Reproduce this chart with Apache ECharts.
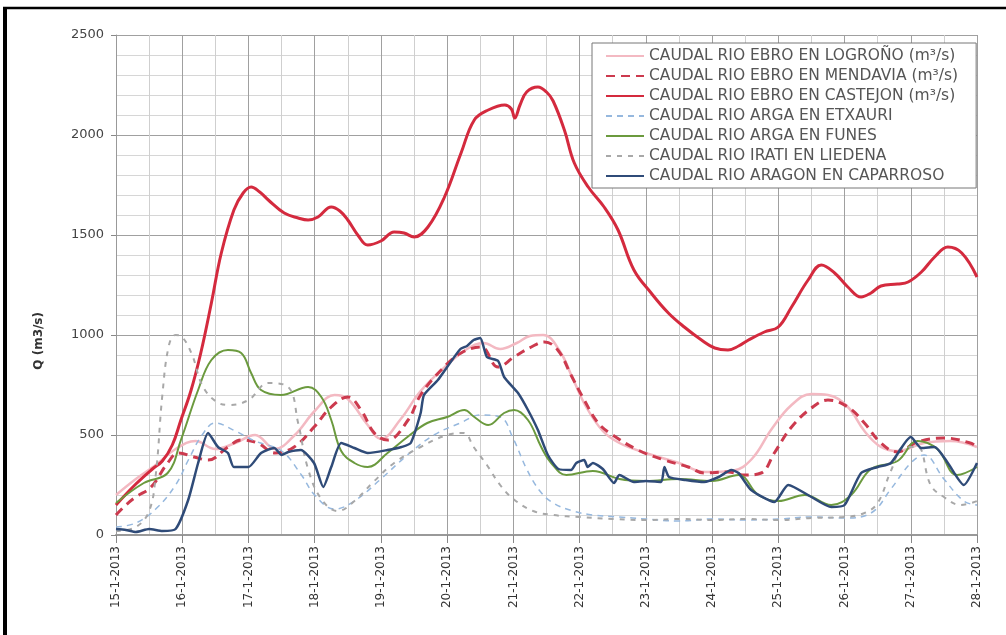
<!DOCTYPE html>
<html>
<head>
<meta charset="utf-8">
<script src="https://cdn.jsdelivr.net/npm/echarts@6/dist/echarts.min.js"></script>
<style>
html,body{margin:0;padding:0;background:#fff;}
#chart{width:1006px;height:635px;}
</style>
</head>
<body>
<div id="chart"></div>
<script>
// ---- data (x = days since 15-1-2013 00:00, y = Q m3/s) ----
const tickLabels = ['15-1-2013','16-1-2013','17-1-2013','18-1-2013','19-1-2013','20-1-2013','21-1-2013',
  '22-1-2013','23-1-2013','24-1-2013','25-1-2013','26-1-2013','27-1-2013','28-1-2013'];
const yTicks = [0, 500, 1000, 1500, 2000, 2500];

const seriesNames = [
  'CAUDAL RIO EBRO EN LOGROÑO (m³/s)',
  'CAUDAL RIO EBRO EN MENDAVIA (m³/s)',
  'CAUDAL RIO EBRO EN CASTEJON (m³/s)',
  'CAUDAL RIO ARGA EN ETXAURI',
  'CAUDAL RIO ARGA EN FUNES',
  'CAUDAL RIO IRATI EN LIEDENA',
  'CAUDAL RIO ARAGON EN CAPARROSO'
];

const LOGRONO = [[0,200],[0.3,280],[0.6,350],[0.9,430],[1.2,470],[1.5,430],[1.8,460],[2.1,500],[2.4,430],[2.7,500],[3.0,620],[3.3,700],[3.5,680],[3.8,550],[4.0,480],[4.3,580],[4.6,720],[5.0,850],[5.3,930],[5.55,960],[5.8,930],[6.05,960],[6.25,995],[6.45,1000],[6.7,920],[6.9,780],[7.1,640],[7.35,520],[7.6,460],[8.0,410],[8.5,360],[8.9,315],[9.3,320],[9.6,380],[9.9,530],[10.2,650],[10.5,705],[10.75,700],[11.05,640],[11.3,520],[11.55,440],[11.8,420],[12.2,460],[12.6,470],[13,440]];

const MENDAVIA = [[0,100],[0.15,150],[0.3,190],[0.53,240],[0.78,360],[0.94,410],[1.18,390],[1.39,375],[1.69,440],[1.89,475],[2.14,460],[2.4,410],[2.69,440],[2.99,540],[3.25,640],[3.5,690],[3.7,625],[3.9,510],[4.1,475],[4.41,575],[4.6,700],[4.91,825],[5.21,910],[5.51,940],[5.77,840],[6.01,890],[6.27,940],[6.47,965],[6.67,925],[6.87,800],[7.07,675],[7.28,560],[7.5,500],[7.88,425],[8.28,375],[8.64,340],[8.88,310],[9.24,315],[9.49,300],[9.74,310],[9.94,410],[10.2,540],[10.5,635],[10.75,675],[11.05,640],[11.3,560],[11.55,460],[11.8,415],[12.1,465],[12.5,485],[12.9,460],[13,440]];

const CASTEJON = [[0,150],[0.3,255],[0.55,330],[0.7,370],[0.85,450],[0.98,575],[1.13,720],[1.28,910],[1.44,1160],[1.59,1410],[1.78,1625],[1.92,1710],[2.04,1740],[2.17,1715],[2.3,1675],[2.54,1610],[2.75,1585],[2.9,1575],[3.05,1590],[3.25,1640],[3.38,1620],[3.5,1575],[3.65,1500],[3.8,1450],[4.0,1470],[4.2,1515],[4.35,1510],[4.5,1490],[4.71,1540],[4.96,1690],[5.21,1910],[5.41,2075],[5.62,2125],[5.87,2150],[5.97,2130],[6.02,2085],[6.1,2150],[6.2,2215],[6.37,2240],[6.5,2215],[6.6,2170],[6.77,2025],[6.92,1860],[7.13,1740],[7.37,1640],[7.58,1525],[7.82,1325],[8.08,1210],[8.34,1110],[8.58,1040],[8.84,975],[9.04,935],[9.24,925],[9.4,945],[9.55,975],[9.79,1015],[10.0,1040],[10.2,1140],[10.45,1275],[10.65,1350],[10.85,1310],[11.05,1240],[11.25,1190],[11.4,1210],[11.55,1245],[11.8,1255],[11.96,1265],[12.16,1315],[12.36,1390],[12.56,1440],[12.77,1410],[13,1290]];

const ETXAURI = [[0,40],[0.3,60],[0.6,130],[0.9,250],[1.1,380],[1.3,500],[1.5,560],[1.8,520],[2.1,470],[2.5,420],[2.8,300],[3.0,200],[3.3,130],[3.6,170],[4.0,280],[4.4,400],[4.8,500],[5.2,560],[5.5,600],[5.8,590],[6.0,480],[6.2,330],[6.4,220],[6.6,160],[6.9,120],[7.2,100],[7.6,90],[8.0,80],[8.5,70],[9.0,80],[9.5,75],[10.0,80],[10.5,90],[11.0,85],[11.4,110],[11.7,230],[12.0,360],[12.2,400],[12.5,280],[12.8,170],[13,150]];

const FUNES = [[0,160],[0.42,260],[0.78,310],[0.98,475],[1.24,725],[1.44,875],[1.69,925],[1.89,910],[2.04,810],[2.19,725],[2.49,700],[2.9,740],[3.1,690],[3.25,575],[3.4,420],[3.6,360],[3.8,340],[4.1,410],[4.4,490],[4.7,560],[5.0,590],[5.26,625],[5.41,590],[5.62,550],[5.86,610],[6.01,625],[6.22,575],[6.42,440],[6.57,360],[6.8,300],[7.2,320],[7.6,280],[8.0,270],[8.5,280],[9.0,270],[9.4,300],[9.7,200],[10.0,170],[10.4,200],[10.8,150],[11.1,200],[11.4,330],[11.8,370],[12.1,470],[12.4,430],[12.7,300],[13,340]];

const LIEDENA = [[0,20],[0.3,40],[0.5,120],[0.6,300],[0.7,700],[0.8,950],[0.9,1000],[1.0,990],[1.15,900],[1.3,750],[1.5,670],[1.7,650],[2.0,675],[2.3,760],[2.6,740],[2.75,560],[2.9,330],[3.1,180],[3.35,120],[3.6,170],[3.9,270],[4.2,360],[4.6,440],[5.0,500],[5.25,510],[5.4,440],[5.6,350],[5.8,250],[6.0,180],[6.3,120],[6.6,100],[7.0,90],[7.5,80],[8.0,75],[8.5,80],[9.0,75],[9.5,80],[10.0,75],[10.5,85],[11.0,90],[11.3,110],[11.5,160],[11.7,320],[11.9,440],[12.1,440],[12.3,250],[12.5,190],[12.75,150],[13,170]];

const ARAGON = [[0,30],[0.15,25],[0.3,15],[0.5,30],[0.7,20],[0.9,30],[1.09,175],[1.24,360],[1.39,510],[1.54,440],[1.69,410],[1.78,340],[2.0,340],[2.19,410],[2.39,435],[2.5,400],[2.6,415],[2.79,425],[2.99,360],[3.13,240],[3.25,340],[3.4,460],[3.6,435],[3.8,410],[4.1,425],[4.31,440],[4.45,460],[4.6,610],[4.65,700],[4.86,775],[5.0,840],[5.2,930],[5.3,945],[5.4,975],[5.5,985],[5.6,890],[5.77,870],[5.86,790],[6.07,710],[6.22,625],[6.37,525],[6.52,400],[6.68,330],[6.87,325],[6.95,360],[7.07,375],[7.12,340],[7.2,360],[7.35,330],[7.52,260],[7.6,300],[7.82,265],[8.0,270],[8.23,265],[8.28,340],[8.35,290],[8.6,275],[8.88,265],[9.1,290],[9.29,325],[9.4,310],[9.59,225],[9.94,165],[10.15,250],[10.5,190],[10.8,140],[11.0,150],[11.25,310],[11.5,340],[11.7,360],[12.0,490],[12.16,435],[12.36,440],[12.56,360],[12.8,250],[13,360]];

const FONT = 'DejaVu Sans';

function lineSeries(name, data, color, width, type, smooth) {
  return {
    name: name, type: 'line', data: data, symbol: 'none', smooth: smooth,
    lineStyle: { color: color, width: width, type: type },
    itemStyle: { color: color },
    animation: false
  };
}

const chart = echarts.init(document.getElementById('chart'), null, { renderer: 'canvas' });
chart.setOption({
  backgroundColor: '#ffffff',
  animation: false,
  grid: { left: 116, right: 29, top: 35, bottom: 100, containLabel: false },
  legend: {
    orient: 'vertical', left: 592, top: 43,
    padding: [5, 18, 4, 13],
    itemWidth: 38, itemHeight: 14, itemGap: 4,
    itemStyle: { opacity: 0 },
    backgroundColor: '#ffffff', borderColor: '#777', borderWidth: 1,
    textStyle: { fontFamily: FONT, fontSize: 15.5, color: '#555', lineHeight: 14 },
    data: seriesNames
  },
  xAxis: {
    type: 'value', min: 0, max: 13, interval: 1,
    axisLine: { show: true, lineStyle: { color: '#999', width: 2 } },
    axisTick: { show: true, length: 8, lineStyle: { color: '#888' } },
    axisLabel: {
      rotate: 90, margin: 11, color: '#333', fontFamily: FONT, fontSize: 12,
      formatter: function (v) { return tickLabels[Math.round(v)]; }
    },
    splitLine: { show: true, lineStyle: { color: '#a0a0a0', width: 1 } },
    minorTick: { show: false, splitNumber: 2 },
    minorSplitLine: { show: true, lineStyle: { color: '#cfcfcf', width: 1 } }
  },
  yAxis: {
    type: 'value', min: yTicks[0], max: yTicks[yTicks.length - 1], interval: 500,
    axisLine: { show: true, lineStyle: { color: '#999', width: 1 } },
    axisTick: { show: true, length: 5, lineStyle: { color: '#888' } },
    axisLabel: { margin: 12, color: '#444', fontFamily: FONT, fontSize: 13,
      formatter: function (v) { return String(v); } },
    splitLine: { show: true, lineStyle: { color: '#a0a0a0', width: 1 } },
    minorTick: { show: false, splitNumber: 5 },
    minorSplitLine: { show: true, lineStyle: { color: '#d6d6d6', width: 1 } }
  },
  graphic: [
    { type: 'text', left: 33, top: 312, rotation: Math.PI / 2, originX: 0, originY: 0,
      style: { text: 'Q (m3/s)', fill: '#333', font: 'bold 12px "DejaVu Sans"', textAlign: 'center', textVerticalAlign: 'middle' }, z: 10 },
    { type: 'line', shape: { x1: 5, y1: 7, x2: 5, y2: 635 }, style: { stroke: '#000', lineWidth: 4 }, z: 10 },
    { type: 'line', shape: { x1: 3, y1: 8, x2: 1006, y2: 8 }, style: { stroke: '#000', lineWidth: 2.5 }, z: 10 }
  ],
  series: [
    lineSeries(seriesNames[0], LOGRONO, '#f3b9c2', 2.5, 'solid', 0.4),
    lineSeries(seriesNames[1], MENDAVIA, '#cc3a4e', 3, [9, 6], 0.4),
    lineSeries(seriesNames[2], CASTEJON, '#d42a3e', 3, 'solid', 0.4),
    lineSeries(seriesNames[3], ETXAURI, '#96b8de', 1.5, [6, 5], 0.4),
    lineSeries(seriesNames[4], FUNES, '#6b9a3e', 2, 'solid', 0.4),
    lineSeries(seriesNames[5], LIEDENA, '#a8a8a8', 2, [5, 6], 0.4),
    lineSeries(seriesNames[6], ARAGON, '#2f4b78', 2.5, 'solid', 0.2)
  ]
});
</script>
</body>
</html>
